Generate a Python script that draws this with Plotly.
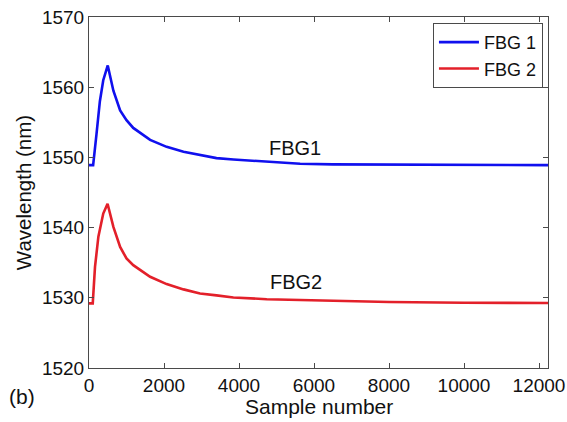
import plotly.graph_objects as go

# Sample index and Bragg wavelength (nm) for the two gratings
fbg1_samples = [0, 110, 200, 290, 380, 500, 650, 830, 1000, 1180, 1630, 2070,
                2520, 2960, 3400, 3850, 4740, 5630, 6500, 8000, 10000, 12240]
fbg1_wavelength = [1548.9, 1548.9, 1553.3, 1558.0, 1561.0, 1563.1, 1559.5, 1556.7,
                   1555.3, 1554.2, 1552.5, 1551.5, 1550.8, 1550.3, 1549.9, 1549.7,
                   1549.35, 1549.1, 1549.0, 1548.95, 1548.9, 1548.9]

fbg2_samples = [0, 100, 160, 250, 380, 495, 650, 830, 1000, 1180, 1630, 2070,
                2520, 2960, 3400, 3850, 4740, 5630, 6500, 8000, 10000, 12240]
fbg2_wavelength = [1529.2, 1529.2, 1534.4, 1538.7, 1542.0, 1543.4, 1540.1, 1537.25,
                   1535.6, 1534.65, 1533.0, 1531.95, 1531.2, 1530.6, 1530.35, 1530.05,
                   1529.8, 1529.7, 1529.5, 1529.4, 1529.3, 1529.25]

series_names = ["FBG 1", "FBG 2"]
series_colors = ["#1010ee", "#e3202a"]
inline_labels = ["FBG1", "FBG2"]
inline_label_pos = [(5500, 1551.4), (5530, 1532.2)]

x_ticks = [0, 2000, 4000, 6000, 8000, 10000, 12000]
x_tick_text = [str(v) for v in x_ticks]
y_ticks = [1520, 1530, 1540, 1550, 1560, 1570]

FONT = "Liberation Sans, Arial, sans-serif"
FRAME = "#4a4a4a"
TEXT = "#111111"

fig = go.Figure()
for xs, ys, name, color in zip([fbg1_samples, fbg2_samples],
                               [fbg1_wavelength, fbg2_wavelength],
                               series_names, series_colors):
    fig.add_trace(go.Scatter(x=xs, y=ys, mode="lines", name=name,
                             line=dict(color=color, width=2.6)))

for text, (lx, ly) in zip(inline_labels, inline_label_pos):
    fig.add_annotation(x=lx, y=ly, text=text, showarrow=False,
                       font=dict(family=FONT, size=20, color=TEXT))

# panel letter and x-axis title, placed in paper coordinates
fig.add_annotation(x=-0.146, y=-0.082, xref="paper", yref="paper", text="(b)",
                   showarrow=False, xanchor="center", yanchor="middle",
                   font=dict(family=FONT, size=21, color=TEXT))
fig.add_annotation(x=0.5, y=-0.109, xref="paper", yref="paper", text="Sample number",
                   showarrow=False, xanchor="center", yanchor="middle",
                   font=dict(family=FONT, size=21, color=TEXT))

axis_common = dict(showline=True, linecolor=FRAME, linewidth=1, mirror="ticks",
                   ticks="inside", ticklen=5, tickcolor=FRAME, showgrid=False,
                   zeroline=False, automargin=False,
                   tickfont=dict(family=FONT, size=19, color=TEXT))

fig.update_xaxes(range=[0, 12240], tickvals=x_ticks, ticktext=x_tick_text,
                 **axis_common)
fig.update_yaxes(range=[1520, 1570], tickvals=y_ticks,
                 title=dict(text="Wavelength (nm)", standoff=4,
                            font=dict(family=FONT, size=20.5, color=TEXT)),
                 **axis_common)

fig.update_layout(
    width=567, height=422,
    margin=dict(l=89, r=19, t=17, b=54, autoexpand=False),
    paper_bgcolor="white", plot_bgcolor="white",
    showlegend=True,
    legend=dict(x=0.989, y=0.983, xanchor="right", yanchor="top",
                bgcolor="white", bordercolor=FRAME, borderwidth=1,
                itemwidth=40,
                font=dict(family=FONT, size=18, color=TEXT),
                tracegroupgap=0),
)

fig.write_html("out.html", config={"displayModeBar": False})
